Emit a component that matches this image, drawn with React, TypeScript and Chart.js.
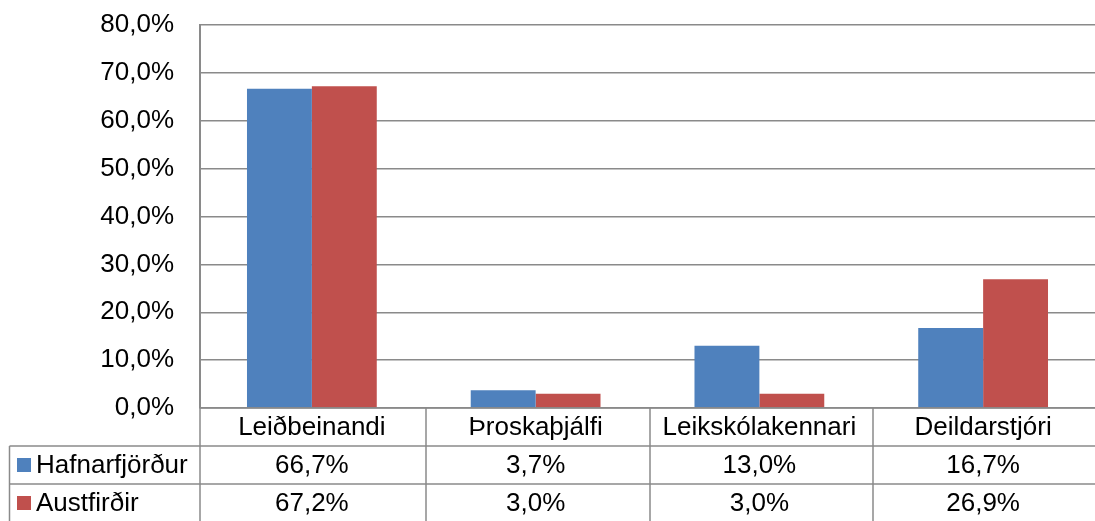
import React, { useEffect, useRef } from "react";
import { Chart, registerables } from "chart.js";

Chart.register(...registerables);

const categories = ["Leiðbeinandi", "Þroskaþjálfi", "Leikskólakennari", "Deildarstjóri"];
const seriesNames = ["Hafnarfjörður", "Austfirðir"];
const hafnarfjordur = [66.7, 3.7, 13.0, 16.7];
const austfirdir = [67.2, 3.0, 3.0, 26.9];
const seriesColors = ["#4F81BD", "#C0504D"];
const yMin = 0;
const yMax = 80;
const yStep = 10;

const FONT = "'Liberation Sans', Arial, sans-serif";
const FONT_SIZE = 26;
const LINE = "#8a8a8a";
const LW = 1.5;

const fmt = (v: number) => v.toFixed(1).replace(".", ",") + "%";

const tablePlugin = {
  id: "dataTable",
  afterDraw(chart: any) {
    const ctx = chart.ctx;
    const area = chart.chartArea;
    const x = chart.scales.x;
    const rowH = 38;
    const legendLeft = 9.5;
    const top = Math.round(area.bottom);
    const left = area.left;
    const right = chart.width;
    const bottom = chart.height + 2;
    ctx.save();
    ctx.strokeStyle = LINE;
    ctx.lineWidth = LW;
    ctx.beginPath();
    ctx.moveTo(left, top);
    ctx.lineTo(right, top);
    for (let r = 1; r <= seriesNames.length; r++) {
      const y = top + r * rowH;
      ctx.moveTo(legendLeft, y);
      ctx.lineTo(right, y);
    }
    ctx.moveTo(left, top);
    ctx.lineTo(left, bottom);
    ctx.moveTo(legendLeft, top + rowH);
    ctx.lineTo(legendLeft, bottom);
    for (let i = 0; i < categories.length - 1; i++) {
      const bx = Math.round((x.getPixelForValue(i) + x.getPixelForValue(i + 1)) / 2) + 2;
      ctx.moveTo(bx, top);
      ctx.lineTo(bx, bottom);
    }
    ctx.stroke();

    ctx.fillStyle = "#000";
    ctx.font = `${FONT_SIZE}px ${FONT}`;
    ctx.textBaseline = "middle";
    ctx.textAlign = "center";
    categories.forEach((c, i) => {
      ctx.fillText(c, x.getPixelForValue(i), top + rowH / 2 + 1);
    });
    const allSeries = [hafnarfjordur, austfirdir];
    allSeries.forEach((vals, r) => {
      const cy = top + rowH * (r + 1) + rowH / 2 + 1;
      ctx.textAlign = "center";
      vals.forEach((v, i) => {
        ctx.fillText(fmt(v), x.getPixelForValue(i), cy);
      });
      ctx.fillStyle = seriesColors[r];
      ctx.fillRect(17, cy - 8, 14, 14);
      ctx.fillStyle = "#000";
      ctx.textAlign = "left";
      ctx.fillText(seriesNames[r], 36, cy);
    });
    ctx.restore();
  },
};

export default function App() {
  const ref = useRef<HTMLCanvasElement>(null);
  useEffect(() => {
    if (!ref.current) return;
    const chart = new Chart(ref.current, {
      type: "bar",
      data: {
        labels: categories,
        datasets: [
          {
            label: seriesNames[0],
            data: hafnarfjordur,
            backgroundColor: seriesColors[0],
            categoryPercentage: 0.58,
            barPercentage: 1.0,
          },
          {
            label: seriesNames[1],
            data: austfirdir,
            backgroundColor: seriesColors[1],
            categoryPercentage: 0.58,
            barPercentage: 1.0,
          },
        ],
      },
      options: {
        responsive: false,
        animation: false,
        layout: { padding: { top: 25, bottom: 113, left: 0, right: 0 } },
        plugins: { legend: { display: false }, tooltip: { enabled: false } },
        scales: {
          x: { display: false },
          y: {
            min: yMin,
            max: yMax,
            afterFit: (s: any) => {
              s.width = 200;
              s.paddingTop = 0;
              s.paddingBottom = 0;
            },
            ticks: {
              stepSize: yStep,
              padding: 26,
              color: "#000",
              font: { family: FONT, size: FONT_SIZE },
              callback: (v: any) => fmt(Number(v)),
            },
            grid: { color: LINE, drawTicks: false, lineWidth: LW },
            border: { display: true, color: LINE, width: 2 },
          },
        },
      },
      plugins: [tablePlugin],
    });
    return () => chart.destroy();
  }, []);
  return (
    <div style={{ position: "absolute", left: 0, top: 0, width: 1095, height: 521, background: "#fff" }}>
      <canvas ref={ref} width={1095} height={521} style={{ display: "block" }} />
    </div>
  );
}
